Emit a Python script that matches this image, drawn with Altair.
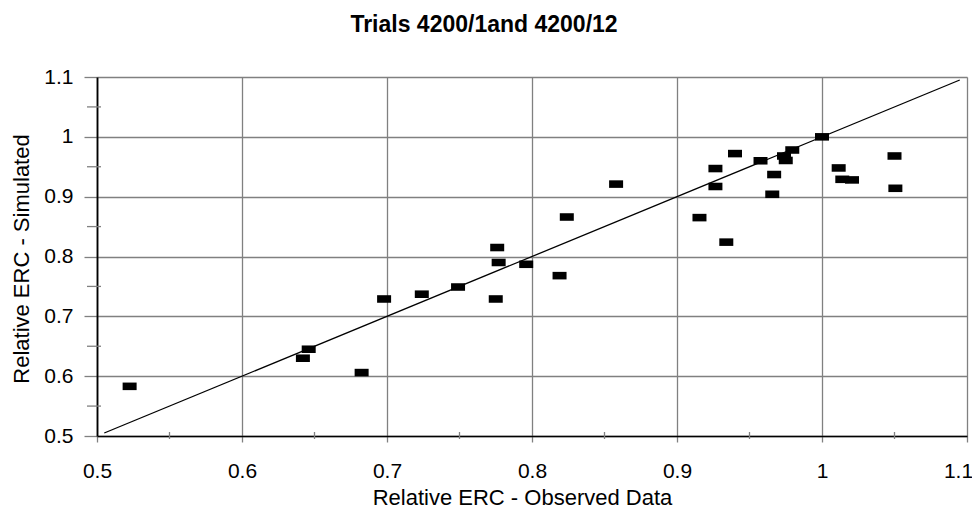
import altair as alt
import pandas as pd

# Data
observed = [0.5225, 0.646, 0.642, 0.6825, 0.698, 0.724, 0.749, 0.776, 0.777, 0.775,
            0.796, 0.819, 0.824, 0.858, 0.9155, 0.934, 0.9265, 0.9265, 0.940, 0.9576,
            0.967, 0.9657, 0.9738, 0.975, 0.9795, 1.0, 1.0115, 1.014, 1.0207, 1.05, 1.0506]
simulated = [0.583, 0.645, 0.630, 0.606, 0.729, 0.737, 0.749, 0.815, 0.790, 0.729,
             0.787, 0.768, 0.866, 0.921, 0.865, 0.824, 0.947, 0.917, 0.972, 0.960,
             0.937, 0.904, 0.968, 0.9605, 0.978, 1.0, 0.948, 0.929, 0.928, 0.968, 0.914]
diag_x = [0.505, 1.095]
diag_y = [0.505, 1.095]
major_ticks = [0.5, 0.6, 0.7, 0.8, 0.9, 1.0, 1.1]
minor_ticks = [0.55, 0.65, 0.75, 0.85, 0.95, 1.05]
title_text = ["Trials 4200/1and 4200/12"]

FONT = "Liberation Sans"
W, H = 870, 359

pts = pd.DataFrame({"obs": observed, "sim": simulated})
diag = pd.DataFrame({"obs": diag_x, "sim": diag_y})
minors = pd.DataFrame({"v": minor_ticks})
titles = pd.DataFrame({"t": title_text})

xscale = alt.Scale(domain=[0.5, 1.1], nice=False, zero=False)
yscale = alt.Scale(domain=[0.5, 1.1], nice=False, zero=False)

xaxis = alt.Axis(values=major_ticks, format="~g", title="Relative ERC - Observed Data",
                 grid=True, gridColor="#808080", gridWidth=1.3,
                 domainColor="black", domainWidth=1.5,
                 tickColor="#808080", tickWidth=1.3, tickSize=6,
                 labelFont=FONT, labelFontSize=21, labelColor="black", labelPadding=18,
                 labelOverlap=False, labelFlush=False, labelBound=False,
                 labelOffset={"condition": {"test": "datum.value > 1.05", "value": -9},
                              "value": 0},
                 titleFont=FONT, titleFontSize=22, titleFontWeight="normal", titleColor="black",
                 titleX=425, titleY=68, titleBaseline="alphabetic", titleAlign="center")
yaxis = alt.Axis(values=major_ticks, format="~g", title="Relative ERC - Simulated",
                 grid=True, gridColor="#808080", gridWidth=1.3,
                 domainColor="black", domainWidth=1.8,
                 tickColor="#808080", tickWidth=1.3, tickSize=13,
                 labelFont=FONT, labelFontSize=21, labelColor="black", labelPadding=11,
                 labelOverlap=False, labelFlush=False, labelBound=False,
                 titleFont=FONT, titleFontSize=22, titleFontWeight="normal", titleColor="black",
                 titleAngle=270, titleX=-69, titleY=181.5, titleBaseline="alphabetic",
                 titleAlign="center")

rect_shape = "M-1,-0.54L1,-0.54L1,0.54L-1,0.54Z"

points = alt.Chart(pts).mark_point(shape=rect_shape, size=196, filled=True,
                                   color="black", opacity=1, strokeWidth=0).encode(
    x=alt.X("obs:Q", scale=xscale, axis=xaxis),
    y=alt.Y("sim:Q", scale=yscale, axis=yaxis),
)

line = alt.Chart(diag).mark_line(color="black", strokeWidth=1.3).encode(
    x=alt.X("obs:Q", scale=xscale),
    y=alt.Y("sim:Q", scale=yscale),
)

yminor = alt.Chart(minors).mark_rule(color="#808080", strokeWidth=1.3).encode(
    y=alt.Y("v:Q", scale=yscale),
    x=alt.value(-10), x2=alt.value(4),
)
xminor = alt.Chart(minors).mark_rule(color="#808080", strokeWidth=1.3).encode(
    x=alt.X("v:Q", scale=xscale),
    y=alt.value(H - 4), y2=alt.value(H + 3),
)

title = alt.Chart(titles).mark_text(font=FONT, fontSize=23, fontWeight="bold",
                                    color="black", align="center",
                                    baseline="alphabetic").encode(
    text="t:N", x=alt.value(387), y=alt.value(-45),
)

chart = alt.layer(yminor, xminor, line, points, title).properties(
    width=W, height=H,
    autosize=alt.AutoSizeParams(type="none"),
    padding={"left": 89, "top": 69, "right": 5, "bottom": 73},
).configure_view(stroke="black", strokeWidth=1.5).configure(background="white")

chart.save("out.html", embed_options={"renderer": "svg", "actions": False})
